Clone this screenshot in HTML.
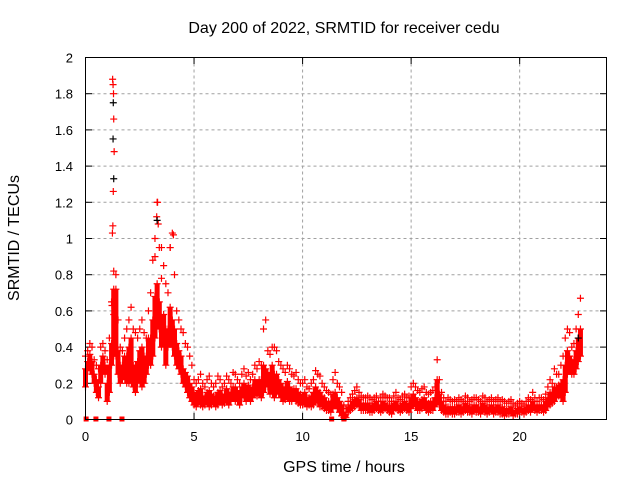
<!DOCTYPE html>
<html><head><meta charset="utf-8"><style>
body{margin:0;background:#fff}
svg text{font-family:"Liberation Sans",sans-serif;font-size:13px;fill:#000}
svg text.big{font-size:16px}
</style></head><body>
<svg id="chart" width="640" height="480" xmlns="http://www.w3.org/2000/svg">
<text class="big" x="344" y="33" text-anchor="middle">Day 200 of 2022, SRMTID for receiver cedu</text>
<text class="big" x="344" y="472" text-anchor="middle">GPS time / hours</text>
<text class="big" transform="translate(19,238) rotate(-90)" text-anchor="middle">SRMTID / TECUs</text>
<g id="grid"></g>
<g id="ticks"></g>
<g id="marks"></g>
<rect x="85.5" y="57.5" width="521" height="362" fill="none" stroke="#000"/>
</svg>
<script>
const xTicks=[0,5,10,15,20];
const yTicks=[0,0.2,0.4,0.6,0.8,1,1.2,1.4,1.6,1.8,2];
const yTickLabels=["0","0.2","0.4","0.6","0.8","1","1.2","1.4","1.6","1.8","2"];
const startHour=0, stepHour=0.1;
const hi=[0.35,0.38,0.42,0.40,0.33,0.30,0.28,0.40,0.42,0.38,
0.33,0.45,0.65,0.82,0.80,0.55,0.40,0.38,0.45,0.50,
0.55,0.62,0.50,0.48,0.45,0.50,0.55,0.48,0.45,0.60,
0.70,0.88,1.00,1.20,0.95,0.78,0.85,0.75,0.70,0.95,
1.03,0.80,0.60,0.55,0.50,0.48,0.42,0.40,0.35,0.30,
0.22,0.20,0.22,0.25,0.20,0.18,0.22,0.24,0.20,0.18,
0.20,0.24,0.22,0.18,0.20,0.24,0.22,0.20,0.26,0.25,
0.22,0.20,0.25,0.28,0.24,0.26,0.22,0.25,0.30,0.28,
0.32,0.30,0.50,0.55,0.38,0.36,0.40,0.40,0.38,0.32,
0.30,0.28,0.26,0.30,0.28,0.25,0.24,0.26,0.22,0.20,
0.20,0.22,0.18,0.17,0.20,0.22,0.27,0.25,0.24,0.20,
0.18,0.16,0.15,0.14,0.22,0.26,0.20,0.18,0.15,0.08,
0.06,0.10,0.12,0.14,0.16,0.18,0.15,0.13,0.12,0.12,
0.13,0.12,0.11,0.12,0.13,0.10,0.12,0.14,0.13,0.12,
0.12,0.10,0.13,0.15,0.12,0.11,0.13,0.14,0.12,0.13,
0.18,0.20,0.18,0.16,0.15,0.17,0.18,0.15,0.14,0.15,
0.16,0.18,0.33,0.22,0.15,0.12,0.10,0.12,0.11,0.10,
0.11,0.10,0.12,0.11,0.10,0.13,0.12,0.10,0.11,0.12,
0.12,0.11,0.10,0.13,0.12,0.10,0.11,0.12,0.10,0.11,
0.12,0.10,0.11,0.10,0.09,0.10,0.11,0.09,0.08,0.09,
0.10,0.09,0.08,0.10,0.12,0.11,0.15,0.12,0.10,0.12,
0.12,0.11,0.14,0.18,0.22,0.20,0.28,0.25,0.25,0.30,
0.35,0.45,0.50,0.48,0.40,0.42,0.50,0.58,0.67];
const mid=[0.28,0.32,0.36,0.32,0.25,0.22,0.18,0.30,0.35,0.30,
0.20,0.30,0.42,0.72,0.72,0.38,0.30,0.30,0.35,0.35,
0.40,0.45,0.30,0.30,0.32,0.38,0.40,0.35,0.35,0.45,
0.45,0.55,0.68,0.75,0.65,0.55,0.58,0.50,0.50,0.62,
0.55,0.50,0.42,0.38,0.35,0.28,0.26,0.24,0.20,0.18,
0.15,0.13,0.16,0.17,0.13,0.12,0.15,0.16,0.14,0.13,
0.13,0.15,0.16,0.13,0.14,0.17,0.15,0.15,0.18,0.18,
0.16,0.14,0.18,0.20,0.17,0.19,0.16,0.18,0.22,0.20,
0.22,0.22,0.30,0.28,0.26,0.24,0.30,0.25,0.25,0.22,
0.20,0.18,0.18,0.21,0.18,0.16,0.17,0.17,0.15,0.14,
0.13,0.15,0.12,0.12,0.13,0.15,0.18,0.16,0.15,0.13,
0.12,0.10,0.10,0.09,0.14,0.15,0.12,0.10,0.08,0.04,
0.03,0.07,0.08,0.10,0.11,0.12,0.11,0.09,0.08,0.09,
0.09,0.08,0.08,0.09,0.10,0.08,0.08,0.10,0.09,0.08,
0.08,0.07,0.09,0.10,0.08,0.07,0.09,0.10,0.08,0.09,
0.12,0.14,0.12,0.10,0.10,0.11,0.12,0.10,0.09,0.10,
0.10,0.12,0.22,0.14,0.10,0.08,0.06,0.07,0.07,0.06,
0.07,0.07,0.08,0.07,0.07,0.09,0.08,0.07,0.07,0.08,
0.08,0.07,0.06,0.09,0.08,0.06,0.07,0.08,0.06,0.07,
0.08,0.06,0.07,0.06,0.05,0.06,0.07,0.05,0.05,0.06,
0.07,0.06,0.06,0.07,0.08,0.07,0.10,0.08,0.07,0.08,
0.08,0.08,0.10,0.12,0.15,0.15,0.18,0.18,0.19,0.20,
0.22,0.30,0.38,0.35,0.32,0.33,0.38,0.45,0.50];
const lo=[0.18,0.27,0.30,0.25,0.20,0.15,0.12,0.20,0.28,0.25,
0.10,0.15,0.30,0.35,0.35,0.25,0.20,0.22,0.25,0.20,
0.20,0.25,0.18,0.15,0.20,0.22,0.18,0.20,0.25,0.30,
0.30,0.35,0.45,0.55,0.50,0.40,0.45,0.30,0.40,0.45,
0.40,0.35,0.30,0.28,0.25,0.20,0.18,0.15,0.12,0.10,
0.08,0.07,0.10,0.08,0.07,0.08,0.10,0.07,0.08,0.09,
0.07,0.08,0.10,0.08,0.09,0.10,0.08,0.10,0.12,0.10,
0.10,0.08,0.12,0.13,0.10,0.12,0.10,0.12,0.14,0.13,
0.14,0.12,0.15,0.18,0.18,0.14,0.20,0.12,0.15,0.14,
0.12,0.10,0.11,0.13,0.10,0.10,0.12,0.10,0.09,0.08,
0.08,0.09,0.07,0.08,0.07,0.08,0.10,0.09,0.07,0.07,
0.06,0.05,0.05,0.04,0.06,0.08,0.06,0.04,0.02,0.01,
0.01,0.04,0.05,0.06,0.07,0.08,0.07,0.05,0.05,0.05,
0.05,0.04,0.04,0.05,0.06,0.05,0.04,0.05,0.06,0.05,
0.04,0.03,0.05,0.06,0.05,0.04,0.05,0.06,0.05,0.04,
0.06,0.08,0.07,0.05,0.05,0.06,0.07,0.05,0.04,0.05,
0.05,0.07,0.12,0.08,0.05,0.04,0.03,0.03,0.04,0.03,
0.03,0.04,0.04,0.03,0.04,0.05,0.04,0.04,0.03,0.05,
0.04,0.04,0.03,0.05,0.04,0.03,0.04,0.05,0.03,0.04,
0.04,0.03,0.03,0.02,0.03,0.03,0.04,0.02,0.03,0.03,
0.04,0.04,0.03,0.04,0.05,0.04,0.06,0.05,0.04,0.05,
0.05,0.04,0.05,0.07,0.08,0.09,0.10,0.12,0.13,0.12,
0.10,0.15,0.25,0.28,0.25,0.25,0.28,0.32,0.35];
const spikeHours=[1.25,1.27,1.29,1.3,1.32,1.28,1.26,1.24,1.22,1.3,3.32,3.28,3.35,3.2,3.5,4.05,3.9];
const spikeValues=[1.88,1.85,1.8,1.66,1.48,1.26,1.07,1.03,0.63,0.58,1.2,1.12,1.08,0.9,0.95,1.02,0.95];
const blackHours=[1.28,1.27,1.3,3.3,22.7];
const blackValues=[1.75,1.55,1.33,1.1,0.45];
const zeroHours=[0.03,0.48,1.08,1.68,11.34,11.9];
const zeroValues=[0,0,0,0,0,0];

const NS="http://www.w3.org/2000/svg";
const X=h=>85.5+h*(521/24);
const Y=v=>419.5-v*181;
const grid=document.getElementById('grid'),ticks=document.getElementById('ticks'),marks=document.getElementById('marks');
function mk(tag,parent,attrs){const e=document.createElementNS(NS,tag);for(const k in attrs)e.setAttribute(k,attrs[k]);parent.appendChild(e);return e;}
xTicks.forEach(t=>{
  const x=X(t);
  if(t>0){const g=mk('line',grid,{x1:x,x2:x,y1:57.5,y2:419.5,stroke:'#a0a0a0','stroke-dasharray':'3,3'});
  
  }
  mk('line',ticks,{x1:x,x2:x,y1:419.5,y2:413,stroke:'#000'});
  mk('line',ticks,{x1:x,x2:x,y1:57.5,y2:64,stroke:'#000'});
  const tx=mk('text',ticks,{x:x,y:441,'text-anchor':'middle'});tx.textContent=t;
  
  
});
yTicks.forEach((t,i)=>{
  const y=Y(t);
  if(t>0&&t<2){const g=mk('line',grid,{x1:85.5,x2:606.5,y1:y,y2:y,stroke:'#a0a0a0','stroke-dasharray':'3,3'});
  
  }
  mk('line',ticks,{x1:85.5,x2:92,y1:y,y2:y,stroke:'#000'});
  mk('line',ticks,{x1:606.5,x2:600,y1:y,y2:y,stroke:'#000'});
  const tx=mk('text',ticks,{x:73,y:y+5,'text-anchor':'end'});tx.textContent=yTickLabels[i];
  
  
});
// density band: core spread of points between lo and mid
mid.forEach((v,i)=>{
  const h=startHour+i*stepHour;
  const b=mk('rect',marks,{x:X(h)-2.5,y:Y(v),width:5,height:Math.max(0,Y(lo[i])-Y(v)),fill:'#ff0000'});
  
  
});
function plus(h,v,col){
  const x=X(h),y=Y(v);
  const p=mk('path',marks,{d:`M${x-3.5},${y}h7M${x},${y-3.5}v7`,stroke:col,'stroke-width':1.2});
  
  
}
[hi,mid,lo].forEach(arr=>arr.forEach((v,i)=>plus(startHour+i*stepHour,v,'#ff0000')));
spikeHours.forEach((h,i)=>plus(h,spikeValues[i],'#ff0000'));
blackHours.forEach((h,i)=>plus(h,blackValues[i],'#000'));
zeroHours.forEach((h,i)=>{
  const r=mk('rect',marks,{x:X(h)-2.5,y:Y(zeroValues[i])-3,width:5,height:5,fill:'#ff0000'});
  
  
});
</script>
</body></html>
